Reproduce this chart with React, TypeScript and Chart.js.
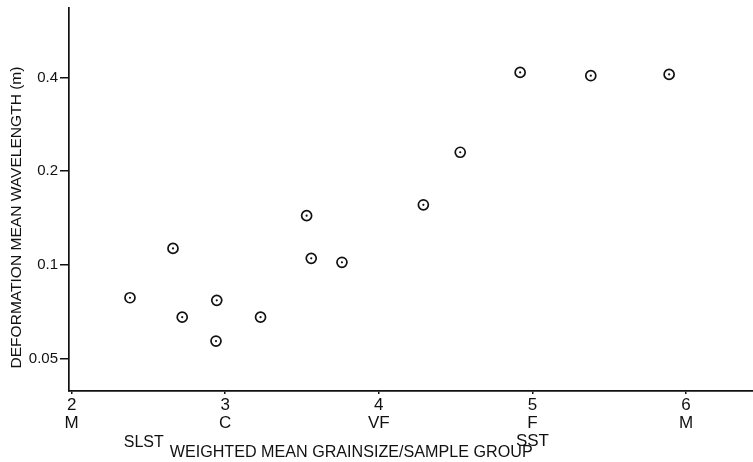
import React, { useEffect, useRef } from 'react';
import { Chart, registerables } from 'chart.js';

Chart.register(...registerables);

// Data
const grainSize = [2.38, 2.66, 2.72, 2.945, 2.94, 3.23, 3.53, 3.56, 3.76, 4.29, 4.53, 4.92, 5.38, 5.89];
const wavelength = [0.0785, 0.113, 0.068, 0.077, 0.057, 0.068, 0.144, 0.105, 0.102, 0.156, 0.23, 0.415, 0.405, 0.409];

const xTicks = [2, 3, 4, 5, 6];
const xTickNames = ['M', 'C', 'VF', 'F', 'M'];
const xTickExtra = ['', '', '', 'SST', ''];
const yTicks = [0.05, 0.1, 0.2, 0.4];
const yTickLabels = ['0.05', '0.1', '0.2', '0.4'];

const xTitle = 'WEIGHTED MEAN GRAINSIZE/SAMPLE GROUP';
const yTitle = 'DEFORMATION MEAN WAVELENGTH (m)';
const siltLabel = 'SLST';

const INK = '#111111';
const FAMILY = '"Liberation Sans", Arial, Helvetica, sans-serif';

function drawFitted(ctx: CanvasRenderingContext2D, text: string, cx: number, cy: number, width: number, size: number, rotate = 0) {
  ctx.save();
  ctx.font = `${size}px ${FAMILY}`;
  ctx.textAlign = 'center';
  ctx.textBaseline = 'middle';
  const w = ctx.measureText(text).width;
  ctx.translate(cx, cy);
  if (rotate) ctx.rotate(rotate);
  ctx.scale(width / w, 1);
  ctx.fillText(text, 0, 0);
  ctx.restore();
}

const annotations = {
  id: 'annotations',
  afterDraw(chart: any) {
    const ctx = chart.ctx as CanvasRenderingContext2D;
    const xs = chart.scales.x;
    const ys = chart.scales.y;
    ctx.save();
    ctx.fillStyle = INK;
    drawFitted(ctx, xTitle, xs.getPixelForValue(3.82), 452, 363, 17);
    drawFitted(ctx, siltLabel, xs.getPixelForValue(2.47), 443, 40, 16);
    drawFitted(ctx, yTitle, 17, ys.getPixelForValue(0.142), 302, 14, -Math.PI / 2);
    ctx.restore();
  },
};

export default function App() {
  const ref = useRef<HTMLCanvasElement | null>(null);

  useEffect(() => {
    document.body.style.margin = '0';
    const canvas = ref.current;
    if (!canvas) return;
    const points = grainSize.map((x, i) => ({ x, y: wavelength[i] }));
    const chart = new Chart(canvas, {
      type: 'scatter',
      data: {
        datasets: [
          {
            label: 'centre',
            data: points,
            pointRadius: 1.1,
            pointBackgroundColor: INK,
            pointBorderWidth: 0,
            pointHoverRadius: 1.1,
          },
          {
            label: 'samples',
            data: points,
            pointRadius: 5,
            pointBackgroundColor: '#ffffff',
            pointBorderColor: INK,
            pointBorderWidth: 1.7,
            pointHoverRadius: 5,
          },
        ],
      },
      plugins: [annotations],
      options: {
        animation: false,
        responsive: false,
        events: [],
        layout: { autoPadding: false, padding: { top: 8, right: 0, left: 0, bottom: 0 } },
        plugins: { legend: { display: false }, tooltip: { enabled: false } },
        scales: {
          x: {
            type: 'linear',
            min: 1.983,
            max: 6.436,
            afterBuildTicks: (s: any) => {
              s.ticks = xTicks.map((v) => ({ value: v }));
            },
            afterFit: (s: any) => {
              s.height = 71;
              s.paddingLeft = 0;
              s.paddingRight = 0;
            },
            ticks: {
              autoSkip: false,
              maxRotation: 0,
              padding: 2,
              color: INK,
              font: { size: 17, family: FAMILY, lineHeight: 1.06 },
              callback: (v: any) => {
                const i = xTicks.indexOf(Number(v));
                const lines = [String(v), xTickNames[i]];
                if (xTickExtra[i]) lines.push(xTickExtra[i]);
                return lines;
              },
            },
            grid: { drawOnChartArea: false, drawTicks: true, tickLength: 3, color: INK, lineWidth: 1.5 },
            border: { display: true, color: INK, width: 1.7 },
          },
          y: {
            type: 'logarithmic',
            min: 0.0394,
            max: 0.668,
            afterBuildTicks: (s: any) => {
              s.ticks = yTicks.map((v) => ({ value: v }));
            },
            afterFit: (s: any) => {
              s.width = 69;
              s.paddingTop = 0;
              s.paddingBottom = 0;
            },
            ticks: {
              autoSkip: false,
              padding: 2,
              color: INK,
              font: { size: 15, family: FAMILY },
              callback: (v: any) => {
                const i = yTicks.indexOf(Number(v));
                return i >= 0 ? yTickLabels[i] : '';
              },
            },
            grid: { drawOnChartArea: false, drawTicks: true, tickLength: 9, color: INK, lineWidth: 1.5 },
            border: { display: true, color: INK, width: 1.7 },
          },
        },
      },
    });
    return () => chart.destroy();
  }, []);

  return (
    <div style={{ width: 753, height: 462, background: '#fff' }}>
      <canvas ref={ref} width={753} height={462} style={{ display: 'block' }} />
    </div>
  );
}
